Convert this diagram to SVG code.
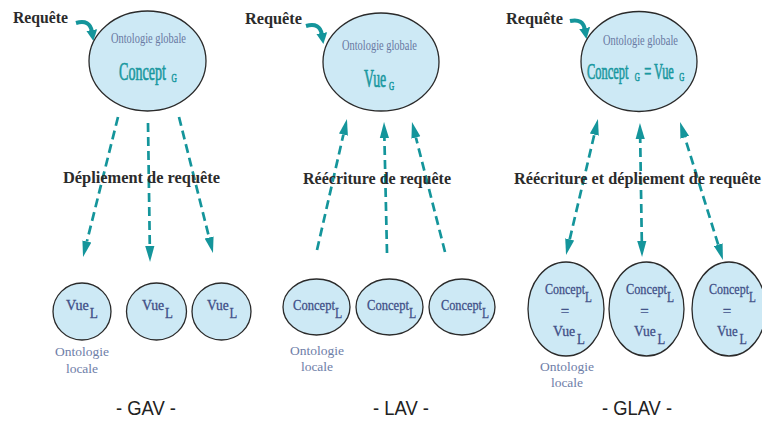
<svg xmlns="http://www.w3.org/2000/svg" width="762" height="421" viewBox="0 0 762 421">
  <style>
    .ell { fill: #cde9f5; stroke: #2a2a2a; stroke-width: 1.3; }
    .serif { font-family: "Liberation Serif", "DejaVu Serif", serif; }
    .glob { fill: #6878a2; font-size: 15px; }
    .gmain { fill: #1a98a0; font-size: 25px; stroke: #1a98a0; stroke-width: 0.7; }
    .gsub { font-size: 13px; }
    .loc { fill: #3f4f87; font-size: 15px; stroke: #3f4f87; stroke-width: 0.3; }
    .lsub { font-size: 14px; }
    .onto { font-family: "Liberation Serif", "DejaVu Serif", serif; fill: #6e7ea8; font-size: 13.5px; text-anchor: middle; }
    .lbl { font-family: "Liberation Serif", "DejaVu Serif", serif; font-weight: bold; fill: #2b2b2b; font-size: 16px; }
    .title { font-family: "Liberation Sans", "Arial", sans-serif; fill: #222; font-size: 20px; }
    .dash { fill: none; stroke: #14959b; stroke-width: 2.7; stroke-dasharray: 9 5; }
    .curve { fill: none; stroke: #14959b; stroke-width: 4; }
  </style>
  <defs>
    <marker id="head" viewBox="0 -5 16 10" refX="0" refY="0" markerWidth="16" markerHeight="10" markerUnits="userSpaceOnUse" orient="auto-start-reverse">
      <path d="M0,-4.6 L16,0 L0,4.6 z" fill="#14959b"/>
    </marker>
    <marker id="bighead" viewBox="0 -6 11 12" refX="2" refY="0" markerWidth="11" markerHeight="12" markerUnits="userSpaceOnUse" orient="auto">
      <path d="M0,-5.5 L11,0 L0,5.5 z" fill="#14959b"/>
    </marker>
  </defs>

  <!-- connectors -->
  <g id="connectors">
    <!-- query entry arrows -->
    <path class="curve" d="M76,23 Q90,19 92,32" marker-end="url(#bighead)"/>
    <path class="curve" d="M306,26 Q320,22 322,35" marker-end="url(#bighead)"/>
    <path class="curve" d="M570,21 Q583,18 585,30" marker-end="url(#bighead)"/>
    <!-- GAV: unfolding -->
    <path class="dash" d="M118,117 L86.9,241.5" marker-end="url(#head)"/>
    <path class="dash" d="M148,123 L149.8,246" marker-end="url(#head)"/>
    <path class="dash" d="M179,117 L209.1,237.5" marker-end="url(#head)"/>
    <!-- LAV: rewriting -->
    <path class="dash" d="M317,250 L343.4,134.6" marker-end="url(#head)"/>
    <path class="dash" d="M387,253 L384.4,138" marker-end="url(#head)"/>
    <path class="dash" d="M445,252 L415.9,137.5" marker-end="url(#head)"/>
    <!-- GLAV: both directions -->
    <path class="dash" d="M569.7,239.4 L594.3,134.6" marker-start="url(#head)" marker-end="url(#head)"/>
    <path class="dash" d="M641.8,241 L640.2,139" marker-start="url(#head)" marker-end="url(#head)"/>
    <path class="dash" d="M718.2,244.7 L684.8,137.3" marker-start="url(#head)" marker-end="url(#head)"/>
  </g>

  <!-- GAV -->
  <g id="gav-global">
    <ellipse class="ell" cx="147.5" cy="61" rx="58.5" ry="50"/>
    <text class="serif glob" transform="translate(111,43) scale(0.695,1)">Ontologie globale</text>
    <text class="serif gmain" transform="translate(119,80) scale(0.564,1)">Concept<tspan class="gsub" dx="10" dy="2">G</tspan></text>
  </g>
  <g id="gav-local-1">
    <ellipse class="ell" cx="82" cy="311.5" rx="29" ry="28.5"/>
    <text class="serif loc" transform="translate(66,310) scale(0.95,1)">Vue<tspan class="lsub" dx="1" dy="8">L</tspan></text>
  </g>
  <g id="gav-local-2">
    <ellipse class="ell" cx="156.5" cy="311.5" rx="30" ry="28.5"/>
    <text class="serif loc" transform="translate(142,310) scale(0.92,1)">Vue<tspan class="lsub" dx="1" dy="8">L</tspan></text>
  </g>
  <g id="gav-local-3">
    <ellipse class="ell" cx="221.5" cy="311.5" rx="29.5" ry="28.5"/>
    <text class="serif loc" transform="translate(207,310) scale(0.9,1)">Vue<tspan class="lsub" dx="1" dy="8">L</tspan></text>
  </g>
  <g id="gav-labels">
    <text class="lbl" x="63" y="183" textLength="157" lengthAdjust="spacingAndGlyphs">Dépliement de requête</text>
    <text class="lbl" x="13" y="23" textLength="55" lengthAdjust="spacingAndGlyphs">Requête</text>
    <text class="onto" x="82" y="356">Ontologie</text>
    <text class="onto" x="82" y="373">locale</text>
    <text class="title" x="116" y="415" textLength="60" lengthAdjust="spacingAndGlyphs">- GAV -</text>
  </g>

  <!-- LAV -->
  <g id="lav-global">
    <ellipse class="ell" cx="381" cy="62" rx="58" ry="49"/>
    <text class="serif glob" transform="translate(342,50) scale(0.695,1)">Ontologie globale</text>
    <text class="serif gmain" transform="translate(364,87) scale(0.553,1)">Vue<tspan class="gsub" dx="5" dy="2.5">G</tspan></text>
  </g>
  <g id="lav-local-1">
    <ellipse class="ell" cx="316.5" cy="307" rx="33.5" ry="28"/>
    <text class="serif loc" transform="translate(293,310) scale(0.84,1)">Concept<tspan class="lsub" dx="0" dy="8">L</tspan></text>
  </g>
  <g id="lav-local-2">
    <ellipse class="ell" cx="389.5" cy="307" rx="33.5" ry="28"/>
    <text class="serif loc" transform="translate(367,310) scale(0.84,1)">Concept<tspan class="lsub" dx="0" dy="8">L</tspan></text>
  </g>
  <g id="lav-local-3">
    <ellipse class="ell" cx="462" cy="307" rx="33" ry="28"/>
    <text class="serif loc" transform="translate(441,310) scale(0.82,1)">Concept<tspan class="lsub" dx="0" dy="8">L</tspan></text>
  </g>
  <g id="lav-labels">
    <text class="lbl" x="303" y="184" textLength="148" lengthAdjust="spacingAndGlyphs">Réécriture de requête</text>
    <text class="lbl" x="245" y="24" textLength="57" lengthAdjust="spacingAndGlyphs">Requête</text>
    <text class="onto" x="317" y="355">Ontologie</text>
    <text class="onto" x="317" y="371">locale</text>
    <text class="title" x="373" y="415" textLength="56" lengthAdjust="spacingAndGlyphs">- LAV -</text>
  </g>

  <!-- GLAV -->
  <g id="glav-global">
    <ellipse class="ell" cx="639" cy="61.5" rx="58" ry="50"/>
    <text class="serif glob" transform="translate(603,45) scale(0.695,1)">Ontologie globale</text>
    <text class="serif gmain" style="font-size:23px" transform="translate(587,79) scale(0.54,1)">Concept<tspan class="gsub" dx="12" dy="2">G</tspan><tspan dx="8" dy="-2">=</tspan><tspan dx="5">Vue</tspan><tspan class="gsub" dx="10" dy="2">G</tspan></text>
  </g>
  <g id="glav-local-1">
    <ellipse class="ell" cx="566" cy="309" rx="38" ry="47"/>
    <text class="serif loc" transform="translate(545,294) scale(0.8,1)">Concept<tspan class="lsub" dx="0" dy="8">L</tspan></text>
    <text class="serif loc" x="565" y="316" text-anchor="middle">=</text>
    <text class="serif loc" transform="translate(553,336) scale(0.92,1)">Vue<tspan class="lsub" dx="2" dy="8">L</tspan></text>
  </g>
  <g id="glav-local-2">
    <ellipse class="ell" cx="646.5" cy="309" rx="37.5" ry="47"/>
    <text class="serif loc" transform="translate(626,294) scale(0.82,1)">Concept<tspan class="lsub" dx="0" dy="8">L</tspan></text>
    <text class="serif loc" x="644.5" y="316" text-anchor="middle">=</text>
    <text class="serif loc" transform="translate(634,336) scale(0.9,1)">Vue<tspan class="lsub" dx="2" dy="8">L</tspan></text>
  </g>
  <g id="glav-local-3">
    <ellipse class="ell" cx="729" cy="309" rx="37" ry="47"/>
    <text class="serif loc" transform="translate(709,294) scale(0.8,1)">Concept<tspan class="lsub" dx="0" dy="8">L</tspan></text>
    <text class="serif loc" x="727" y="316" text-anchor="middle">=</text>
    <text class="serif loc" transform="translate(717,336) scale(0.86,1)">Vue<tspan class="lsub" dx="2" dy="8">L</tspan></text>
  </g>
  <g id="glav-labels">
    <text class="lbl" x="514" y="184" textLength="247" lengthAdjust="spacingAndGlyphs">Réécriture et dépliement de requête</text>
    <text class="lbl" x="506" y="24" textLength="57" lengthAdjust="spacingAndGlyphs">Requête</text>
    <text class="onto" x="567" y="371">Ontologie</text>
    <text class="onto" x="567" y="387">locale</text>
    <text class="title" x="602" y="415" textLength="70" lengthAdjust="spacingAndGlyphs">- GLAV -</text>
  </g>
</svg>
